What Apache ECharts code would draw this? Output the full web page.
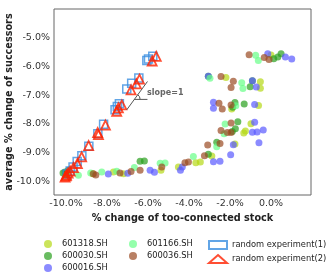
<!DOCTYPE html>
<html>
<head>
<meta charset="utf-8">
<script src="https://cdn.jsdelivr.net/npm/echarts@6/dist/echarts.min.js"></script>
<style>html,body{margin:0;padding:0;background:#fff}#c{width:332px;height:279px}</style>
</head>
<body>
<div id="c"></div>
<script>
// ---- data (x = % change of too-connected stock, y = average % change of successors)
var xTicks = [-10, -8, -6, -4, -2, 0];
var yTicks = [-10, -9, -8, -7, -6, -5];

var s601318 = [[0.0,-5.61],[-2.20,-6.39],[-0.52,-6.54],[-0.52,-6.76],[-1.92,-7.48],[-0.61,-7.36],
  [-0.98,-7.99],[-1.33,-8.31],[-1.25,-8.24],[-1.76,-8.69],[-2.89,-9.11],[-3.67,-9.34],[-3.45,-9.32],
  [-4.52,-9.49],[-7.69,-9.66],[-7.20,-9.72],[-5.37,-9.60],[-8.70,-9.72],[-10.0,-9.72]];
var s600030 = [[0.13,-5.74],[0.33,-5.68],[0.49,-5.57],[-3.06,-6.35],[-1.02,-6.71],[-0.91,-6.50],
  [-1.76,-7.26],[-1.31,-7.31],[-1.87,-7.42],[-1.62,-7.92],[-1.74,-8.17],[-1.89,-8.26],[-2.65,-8.63],
  [-3.06,-9.05],[-6.39,-9.29],[-6.18,-9.28],[-10.05,-9.66],[-9.89,-9.60],[-10.15,-9.70],[-10.0,-9.77]];
var s600016 = [[-0.16,-5.57],[0.70,-5.68],[1.01,-5.75],[-3.06,-6.35],[-0.91,-6.50],[-0.72,-6.72],
  [-2.81,-7.25],[-2.81,-7.46],[-0.80,-7.33],[-0.80,-7.94],[-0.91,-8.29],[-0.68,-8.28],[-0.38,-8.21],
  [-0.59,-8.65],[-1.84,-8.72],[-1.97,-9.07],[-2.81,-9.31],[-2.49,-9.29],[-4.33,-9.49],[-4.42,-9.60],
  [-7.94,-9.73],[-6.99,-9.71],[-5.90,-9.60],[-5.69,-9.67]];
var s601166 = [[-0.75,-5.62],[-0.62,-5.80],[-2.98,-6.42],[-1.43,-6.57],[-1.37,-6.77],[-1.72,-7.37],
  [-2.24,-8.00],[-2.29,-8.34],[-2.65,-8.79],[-3.79,-9.13],[-5.41,-9.36],[-5.17,-9.35],[-6.67,-9.51],
  [-7.53,-9.64],[-8.26,-9.66],[-9.40,-9.78],[-8.80,-9.70]];
var s600036 = [[-1.07,-5.60],[-0.33,-5.70],[-0.10,-5.77],[-2.44,-6.36],[-1.84,-6.52],[-1.95,-6.74],
  [-2.54,-7.28],[-2.38,-7.48],[-1.95,-7.34],[-1.95,-7.97],[-2.44,-8.23],[-2.13,-8.30],[-1.95,-8.30],
  [-3.09,-8.73],[-2.49,-8.68],[-3.25,-9.10],[-4.20,-9.34],[-4.03,-9.32],[-8.67,-9.72],[-8.55,-9.77],
  [-7.37,-9.70],[-6.83,-9.65],[-6.39,-9.60],[-5.33,-9.49]];
var random1 = [[-6.06,-5.80],[-5.77,-5.66],[-5.98,-5.75],[-7.04,-6.79],[-6.80,-6.59],[-6.45,-6.41],
  [-7.61,-7.51],[-7.50,-7.40],[-7.40,-7.30],[-8.45,-8.34],[-8.17,-8.01],[-8.89,-8.77],[-9.23,-9.10],
  [-9.46,-9.30],[-9.66,-9.49],[-9.80,-9.63],[-9.95,-9.73]];
var random2 = [[-5.80,-5.82],[-5.60,-5.66],[-6.83,-6.82],[-6.57,-6.61],[-6.42,-6.45],[-7.53,-7.56],
  [-7.45,-7.44],[-7.28,-7.34],[-8.42,-8.37],[-8.46,-8.30],[-8.08,-8.04],[-8.90,-8.75],[-9.24,-9.14],
  [-9.45,-9.37],[-9.64,-9.51],[-9.80,-9.63],[-9.90,-9.70],[-9.98,-9.77],[-10.05,-9.84],[-10.0,-9.80]];
// annotation: slope=1 guide
var slopeLine = [[-7.04,-7.51],[-6.03,-6.53]];
var baseLine = [[-6.68,-7.15],[-6.03,-7.15]];
var slopeLabelPos = [-6.05,-6.92];

var FONT = 'DejaVu Sans';
var chart = echarts.init(document.getElementById('c'), null, {renderer:'canvas'});

function dots(name, data, color){
  return {name:name, type:'scatter', data:data, symbol:'circle', symbolSize:7,
    itemStyle:{color:color, opacity:0.7}, z:2};
}
var series = [
  dots('601318.SH', s601318, '#b5d916'),
  dots('600030.SH', s600030, '#2aa01e'),
  dots('600016.SH', s600016, '#5a5aff'),
  dots('601166.SH', s601166, '#66ff88'),
  dots('600036.SH', s600036, '#9a4a22'),
  {name:'random experiment(1)', type:'scatter', data:random1, symbol:'rect', symbolSize:8,
    itemStyle:{color:'rgba(255,255,255,0)', borderColor:'#3b8ee0', borderWidth:1.5}, z:3},
  {name:'random experiment(2)', type:'scatter', data:random2, symbol:'triangle', symbolSize:9,
    itemStyle:{color:'rgba(255,255,255,0)', borderColor:'#ff2200', borderWidth:1.8}, z:4},
  {type:'line', data:slopeLine, symbol:'none', lineStyle:{color:'#555', width:1}, silent:true, z:5},
  {type:'line', data:baseLine, symbol:'none', lineStyle:{color:'#555', width:1}, silent:true, z:5}
];

function legend(names, left){
  return {data:names, orient:'vertical', left:left, top:240, itemWidth:18, itemHeight:8, itemGap:4,
    padding:0, selectedMode:false, textStyle:{fontFamily:FONT, fontSize:8.3, color:'#222', lineHeight:8}};
}
function pct(v){ return v.toFixed(1) + '%'; }

chart.setOption({
  animation:false,
  backgroundColor:'#fff',
  grid:{left:54, right:21, top:9, bottom:84, show:true, borderColor:'#666', borderWidth:1,
    containLabel:false, outerBoundsMode:'none'},
  xAxis:{type:'value', min:-10.59, max:1.95,
    name:'% change of too-connected stock', nameLocation:'middle', nameGap:12,
    nameTextStyle:{fontFamily:FONT, fontSize:9.7, fontWeight:'bold', color:'#222'},
    axisLine:{show:false}, axisTick:{show:false}, splitLine:{show:false},
    axisLabel:{customValues:xTicks, formatter:pct,
      fontFamily:FONT, fontSize:9.5, color:'#333', margin:4}},
  yAxis:{type:'value', min:-10.46, max:-4.02,
    name:'average % change of successors', nameLocation:'middle', nameGap:40, nameMoveOverlap:false,
    nameTextStyle:{fontFamily:FONT, fontSize:9.7, fontWeight:'bold', color:'#222'},
    axisLine:{show:false}, axisTick:{show:false}, splitLine:{show:false},
    axisLabel:{customValues:yTicks, formatter:pct,
      fontFamily:FONT, fontSize:9.5, color:'#333', margin:4}},
  legend:[
    legend(['601318.SH','600030.SH','600016.SH'], 44),
    legend(['601166.SH','600036.SH'], 129),
    legend(['random experiment(1)','random experiment(2)'], 208)
  ],
  series:series
});

// angle arc + label placed through the chart's own scales
var c0 = chart.convertToPixel({gridIndex:0}, baseLine[0]);
var c1 = chart.convertToPixel({gridIndex:0}, slopeLine[1]);
var ang = Math.atan2(c0[1]-c1[1], c1[0]-c0[0]);
var lp = chart.convertToPixel({gridIndex:0}, slopeLabelPos);
chart.setOption({graphic:[
  {type:'arc', shape:{cx:c0[0], cy:c0[1], r:6, startAngle:-ang, endAngle:0, clockwise:true},
   style:{stroke:'#555', lineWidth:1, fill:null}, z:10},
  {type:'text', x:lp[0], y:lp[1], style:{text:'slope=1', fontFamily:FONT, fontSize:8, fontWeight:'bold',
   fill:'#666', verticalAlign:'middle'}, z:10}
]});
</script>
</body>
</html>
